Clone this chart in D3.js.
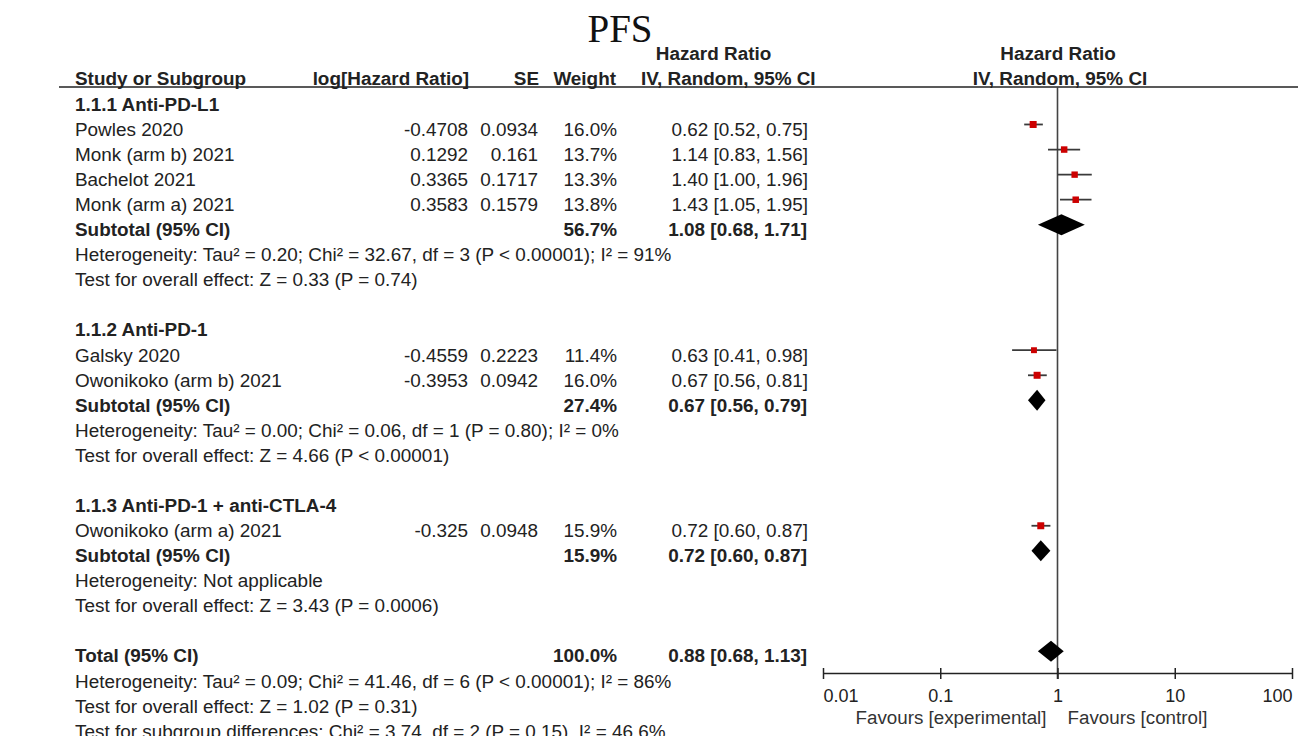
<!DOCTYPE html>
<html>
<head>
<meta charset="utf-8">
<script src="https://cdn.jsdelivr.net/npm/d3@7"></script>
<style>
  html, body { margin: 0; padding: 0; background: #fff; }
  svg { display: block; }
  text { font-family: "Liberation Sans", Arial, sans-serif; fill: #222; }
</style>
</head>
<body>
<svg id="chart" width="1298" height="736"></svg>
<script>
// ---- data ----
const groups = ["1.1.1 Anti-PD-L1", "1.1.2 Anti-PD-1", "1.1.3 Anti-PD-1 + anti-CTLA-4"];
const studies = ["Powles 2020", "Monk (arm b) 2021", "Bachelot 2021", "Monk (arm a) 2021",
                 "Galsky 2020", "Owonikoko (arm b) 2021", "Owonikoko (arm a) 2021"];
const studyGroup = [0, 0, 0, 0, 1, 1, 2];
const logHR = [-0.4708, 0.1292, 0.3365, 0.3583, -0.4559, -0.3953, -0.325];
const seVals = [0.0934, 0.161, 0.1717, 0.1579, 0.2223, 0.0942, 0.0948];
const weights = [16.0, 13.7, 13.3, 13.8, 11.4, 16.0, 15.9];
const hr = [0.62, 1.14, 1.40, 1.43, 0.63, 0.67, 0.72];
const hrLow = [0.52, 0.83, 1.00, 1.05, 0.41, 0.56, 0.60];
const hrHigh = [0.75, 1.56, 1.96, 1.95, 0.98, 0.81, 0.87];

const subWeights = [56.7, 27.4, 15.9];
const subHR = [1.08, 0.67, 0.72];
const subLow = [0.68, 0.56, 0.60];
const subHigh = [1.71, 0.79, 0.87];
const subHet = [
  "Heterogeneity: Tau² = 0.20; Chi² = 32.67, df = 3 (P < 0.00001); I² = 91%",
  "Heterogeneity: Tau² = 0.00; Chi² = 0.06, df = 1 (P = 0.80); I² = 0%",
  "Heterogeneity: Not applicable"
];
const subTest = [
  "Test for overall effect: Z = 0.33 (P = 0.74)",
  "Test for overall effect: Z = 4.66 (P < 0.00001)",
  "Test for overall effect: Z = 3.43 (P = 0.0006)"
];

const totalWeight = 100.0;
const totalHR = 0.88, totalLow = 0.68, totalHigh = 1.13;
const totalNotes = [
  "Heterogeneity: Tau² = 0.09; Chi² = 41.46, df = 6 (P < 0.00001); I² = 86%",
  "Test for overall effect: Z = 1.02 (P = 0.31)",
  "Test for subgroup differences: Chi² = 3.74, df = 2 (P = 0.15), I² = 46.6%"
];

const axisTicks = [0.01, 0.1, 1, 10, 100];
const axisTickLabels = ["0.01", "0.1", "1", "10", "100"];
const favourLabels = ["Favours [experimental]", "Favours [control]"];

// ---- row layout ----
const rows = [];
groups.forEach((g, gi) => {
  rows.push({ type: "group", label: g });
  studies.forEach((s, i) => {
    if (studyGroup[i] === gi) rows.push({ type: "study", i });
  });
  rows.push({ type: "subtotal", gi });
  rows.push({ type: "note", label: subHet[gi] });
  rows.push({ type: "note", label: subTest[gi] });
  rows.push({ type: "blank" });
});
rows.push({ type: "total" });
totalNotes.forEach(t => rows.push({ type: "note", label: t }));

const fmt2 = d => d.toFixed(2);
const ciText = (m, l, h) => `${fmt2(m)} [${fmt2(l)}, ${fmt2(h)}]`;

// ---- scales ----
const svg = d3.select("#chart");
const FS = 18.9;
const rowY = d3.scaleLinear().domain([0, rows.length - 1]).range([110.7, 110.7 + (rows.length - 1) * 25.08]);
const x = d3.scaleLog().domain([0.01, 100]).range([823, 1292]);
const markOffset = -11.3;

const col = { study: 75, logHR: 468, se: 538, weight: 617, ci: 808 };

// ---- title & headers ----
svg.append("text").attr("x", 620).attr("y", 42).attr("text-anchor", "middle")
  .style("font-family", "'Liberation Serif', 'Times New Roman', serif")
  .style("font-size", "39px").style("fill", "#111").text("PFS");

const head = svg.append("g").style("font-weight", "bold").style("font-size", FS + "px");
head.append("text").attr("x", col.study).attr("y", 85).text("Study or Subgroup");
head.append("text").attr("x", 469).attr("y", 85).attr("text-anchor", "end").text("log[Hazard Ratio]");
head.append("text").attr("x", 539).attr("y", 85).attr("text-anchor", "end").text("SE");
head.append("text").attr("x", 616).attr("y", 85).attr("text-anchor", "end").text("Weight");
head.append("text").attr("x", 713.5).attr("y", 60).attr("text-anchor", "middle").text("Hazard Ratio");
head.append("text").attr("x", 641).attr("y", 85).text("IV, Random, 95% CI");
head.append("text").attr("x", 1058).attr("y", 60).attr("text-anchor", "middle").text("Hazard Ratio");
head.append("text").attr("x", 1060).attr("y", 85).attr("text-anchor", "middle").text("IV, Random, 95% CI");

svg.append("line").attr("x1", 59).attr("x2", 1298).attr("y1", 87).attr("y2", 87)
  .attr("stroke", "#222").attr("stroke-width", 1.5);

// ---- line of no effect ----
svg.append("line").attr("x1", x(1)).attr("x2", x(1)).attr("y1", 87).attr("y2", 679)
  .attr("stroke", "#444").attr("stroke-width", 1.6);

// ---- table rows ----
const body = svg.append("g").style("font-size", FS + "px");
rows.forEach((r, ri) => {
  const y = rowY(ri);
  if (r.type === "group") {
    body.append("text").attr("x", col.study).attr("y", y).style("font-weight", "bold").text(r.label);
  } else if (r.type === "note") {
    body.append("text").attr("x", col.study).attr("y", y).text(r.label);
  } else if (r.type === "study") {
    const i = r.i;
    body.append("text").attr("x", col.study).attr("y", y).text(studies[i]);
    body.append("text").attr("x", col.logHR).attr("y", y).attr("text-anchor", "end").text(String(logHR[i]));
    body.append("text").attr("x", col.se).attr("y", y).attr("text-anchor", "end").text(String(seVals[i]));
    body.append("text").attr("x", col.weight).attr("y", y).attr("text-anchor", "end").text(weights[i].toFixed(1) + "%");
    body.append("text").attr("x", col.ci).attr("y", y).attr("text-anchor", "end").text(ciText(hr[i], hrLow[i], hrHigh[i]));
    const my = y + markOffset;
    svg.append("line").attr("x1", x(hrLow[i])).attr("x2", x(hrHigh[i])).attr("y1", my).attr("y2", my)
      .attr("stroke", "#3a3a3a").attr("stroke-width", 1.8);
    const side = 1.75 * Math.sqrt(weights[i]);
    svg.append("rect").attr("x", x(hr[i]) - side / 2).attr("y", my - side / 2)
      .attr("width", side).attr("height", side).attr("fill", "#cc0000");
  } else if (r.type === "subtotal" || r.type === "total") {
    const isTotal = r.type === "total";
    const w = isTotal ? totalWeight : subWeights[r.gi];
    const m = isTotal ? totalHR : subHR[r.gi];
    const l = isTotal ? totalLow : subLow[r.gi];
    const h = isTotal ? totalHigh : subHigh[r.gi];
    const g = body.append("g").style("font-weight", "bold");
    g.append("text").attr("x", col.study).attr("y", y).text(isTotal ? "Total (95% CI)" : "Subtotal (95% CI)");
    g.append("text").attr("x", col.weight).attr("y", y).attr("text-anchor", "end").text(w.toFixed(1) + "%");
    g.append("text").attr("x", col.ci - 1).attr("y", y).attr("text-anchor", "end").text(ciText(m, l, h));
    const my = y + markOffset, hh = 10.5;
    svg.append("path")
      .attr("d", `M${x(l)},${my} L${x(m)},${my - hh} L${x(h)},${my} L${x(m)},${my + hh} Z`)
      .attr("fill", "#000");
  }
});

// ---- axis ----
const axisY = 673.5;
const axis = svg.append("g").attr("transform", `translate(0,${axisY})`)
  .call(d3.axisBottom(x).tickValues(axisTicks).tickFormat((d, i) => axisTickLabels[i]).tickSize(6).tickPadding(0));
axis.select(".domain").attr("d", `M${x(0.01)},0H${x(100)}`).attr("stroke", "#222").attr("stroke-width", 1.5);
axis.selectAll(".tick line").attr("y1", -5.5).attr("y2", 5.5).attr("stroke", "#222").attr("stroke-width", 1.5);
axis.selectAll(".tick text")
  .attr("y", 28).attr("dy", null)
  .style("font-family", "'Liberation Sans', Arial, sans-serif").style("font-size", "18px").style("fill", "#222")
  .attr("text-anchor", (d, i) => i === 0 ? "start" : (i === axisTicks.length - 1 ? "end" : "middle"));

svg.append("text").attr("x", x(1) - 11).attr("y", 724).attr("text-anchor", "end")
  .style("font-size", "18.8px").style("fill", "#333").text(favourLabels[0]);
svg.append("text").attr("x", x(1) + 10).attr("y", 724)
  .style("font-size", "18.8px").style("fill", "#333").text(favourLabels[1]);
</script>
</body>
</html>
